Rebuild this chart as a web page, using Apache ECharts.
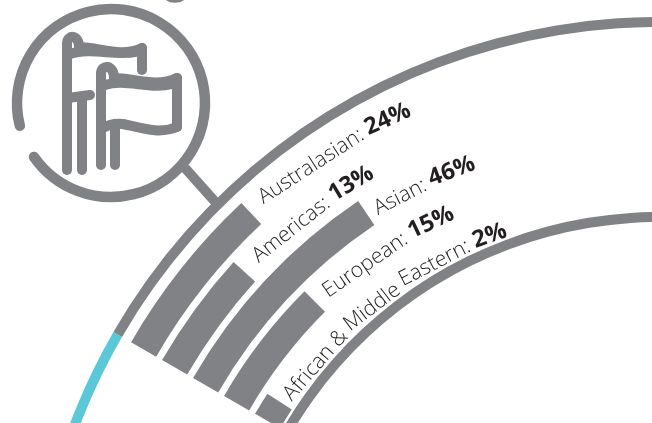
<!DOCTYPE html>
<html><head><meta charset="utf-8">
<style>html,body{margin:0;padding:0;background:#fff}#c{width:652px;height:423px}</style>
<script src="https://cdn.jsdelivr.net/npm/echarts@6/dist/echarts.min.js"></script>
</head><body><div id="c"></div>
<script>
// inner to outer
const categories = ['African & Middle Eastern', 'European', 'Asian', 'Americas', 'Australasian'];
const percents = [2, 15, 46, 13, 24];
// bar sweep as drawn in the picture (not proportional to the printed share)
const barSweep = [2.9, 15.1, 26, 12.15, 16.75];
const ringBefore = [60];
const ringAfter = [90];
const innerRing = [90];

const GREY = '#808285', TEAL = '#5bc8d7', TEXT = '#231f20';
const CX = 659, CY = 647, BASE = 150;
const LABEL_RADIUS = [426, 612];
const labelGap = [0.9, 1.5, 1.0, 1.7, 1.5];
const FONT = 'Open Sans', SIZE_A = 21.2, SIZE_B = 23.5, WEIGHT_A = 300;

const stroke = {fill: 'none', stroke: GREY, lineWidth: 10, lineCap: 'round', lineJoin: 'round'};
const L = (x1, y1, x2, y2) => ({type: 'line', silent: true, shape: {x1, y1, x2, y2}, style: stroke});
const B = (x1, y1, cpx1, cpy1, cpx2, cpy2, x2, y2) => ({type: 'bezierCurve', silent: true, shape: {x1, y1, cpx1, cpy1, cpx2, cpy2, x2, y2}, style: stroke});
const axisOff = {axisLine: {show: false}, axisTick: {show: false}, axisLabel: {show: false}, splitLine: {show: false}};

// Lay each label's words along its arc, like the curved type in the picture.
const ctx = document.createElement('canvas').getContext('2d');
const widthOf = (t, weight, size) => { ctx.font = weight + ' ' + size + 'px "' + FONT + '"'; return ctx.measureText(t).width; };
const bandR = (LABEL_RADIUS[1] - LABEL_RADIUS[0]) / categories.length;
const wordPoints = [];
categories.forEach((c, i) => {
  const r = LABEL_RADIUS[0] + bandR * (i + 0.5);
  const words = (c + ':').split(' ').map(t => ({t, weight: WEIGHT_A, size: SIZE_A}));
  words.push({t: percents[i] + '%', weight: 700, size: SIZE_B});
  let cursor = 0;
  const space = widthOf(' ', WEIGHT_A, SIZE_A);
  words.forEach(w => {
    const wd = widthOf(w.t, w.weight, w.size);
    const sweep = barSweep[i] + labelGap[i] + (cursor + wd / 2) / r * 180 / Math.PI;
    wordPoints.push({
      value: [c, sweep],
      label: {
        show: true, position: 'inside', rotate: BASE - sweep - 90 - 3, align: 'center', verticalAlign: 'middle',
        formatter: w.t, fontFamily: FONT, fontSize: w.size, fontWeight: w.weight, color: TEXT, opacity: 1
      }
    });
    cursor += wd + space;
  });
});

const chart = echarts.init(document.getElementById('c'), null, {renderer: 'canvas'});
chart.setOption({
  animation: false,
  backgroundColor: '#fff',
  polar: [
    {center: [CX, CY], radius: [434, 613]},
    {center: [CX, CY], radius: [620, 630]},
    {center: [CX, CY], radius: [425, 435]},
    {center: [CX, CY], radius: LABEL_RADIUS}
  ],
  angleAxis: [
    {polarIndex: 0, type: 'value', min: 0, max: 360, startAngle: BASE, ...axisOff},
    {polarIndex: 1, type: 'value', min: 0, max: 360, startAngle: BASE + ringBefore[0], ...axisOff},
    {polarIndex: 2, type: 'value', min: 0, max: 360, startAngle: BASE, ...axisOff},
    {polarIndex: 3, type: 'value', min: 0, max: 360, startAngle: BASE, ...axisOff}
  ],
  radiusAxis: [
    {polarIndex: 0, type: 'category', data: categories, ...axisOff},
    {polarIndex: 1, type: 'category', data: ['ring'], ...axisOff},
    {polarIndex: 2, type: 'category', data: ['ring'], ...axisOff},
    {polarIndex: 3, type: 'category', data: categories, ...axisOff}
  ],
  series: [
    {type: 'bar', coordinateSystem: 'polar', polarIndex: 1, stack: 'o', barWidth: '100%', data: ringBefore, itemStyle: {color: TEAL}, silent: true},
    {type: 'bar', coordinateSystem: 'polar', polarIndex: 1, stack: 'o', barWidth: '100%', data: ringAfter, itemStyle: {color: GREY}, silent: true},
    {type: 'bar', coordinateSystem: 'polar', polarIndex: 2, barWidth: '100%', data: innerRing, itemStyle: {color: GREY}, silent: true},
    {type: 'bar', coordinateSystem: 'polar', polarIndex: 0, barWidth: 29, data: barSweep, itemStyle: {color: GREY}, silent: true},
    {type: 'scatter', coordinateSystem: 'polar', polarIndex: 3, symbolSize: 0, silent: true, itemStyle: {opacity: 1}, labelLayout: {hideOverlap: false}, data: wordPoints}
  ],
  graphic: [
    {type: 'arc', silent: true, shape: {cx: 111, cy: 103, r: 94, startAngle: 166 * Math.PI / 180, endAngle: 505 * Math.PI / 180, clockwise: true}, style: {...stroke, lineWidth: 10.5}},
    {type: 'line', silent: true, shape: {x1: 185, y1: 168, x2: 218, y2: 205}, style: {stroke: GREY, lineWidth: 10}},
    L(67, 170, 67, 44), B(67, 44, 67, 34, 79, 34, 79, 47), B(79, 47, 100, 47, 120, 58, 142, 48), L(142, 48, 142, 70),
    B(70, 54, 90, 47, 115, 56, 135, 52),
    L(82, 170, 82, 97), L(68, 98, 90, 95),
    L(101, 165, 101, 74), B(101, 74, 101, 64, 114, 64, 114, 78), B(114, 78, 135, 78, 155, 88, 177, 78), L(177, 78, 177, 127),
    B(177, 127, 160, 134, 145, 129, 123, 124), B(123, 124, 115, 123, 108, 125, 103, 128),
    B(105, 85, 125, 78, 150, 90, 172, 84),
    L(115, 165, 115, 128),
    {type: 'bezierCurve', silent: true, shape: {x1: 167, y1: -1, cpx1: 171, cpy1: 2, cpx2: 179, cpy2: 2, x2: 183, y2: -1}, style: {fill: 'none', stroke: GREY, lineWidth: 3}}
  ]
});
</script></body></html>
